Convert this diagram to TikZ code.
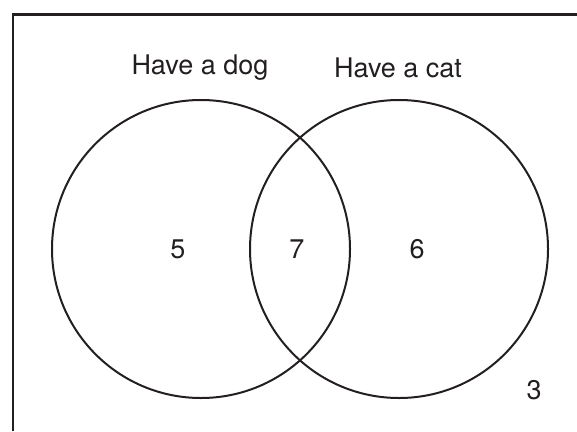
\documentclass[tikz,border=0pt]{standalone}
\usepackage{fontspec}
\setmainfont{TeX Gyre Heros}
\usetikzlibrary{positioning}
\definecolor{inkBlack}{RGB}{35,31,32}

\begin{document}
\begin{tikzpicture}[
  x=1pt, y=-1pt,
  font=\fontsize{27}{31}\selectfont,
  setcirc/.style={
    circle,
    draw=inkBlack,
    line width=2pt,
    minimum size=298pt,
    inner sep=0pt,
  },
  setlab/.style={
    text=inkBlack,
    inner sep=0pt,
  },
  count/.style={
    text=inkBlack,
    inner sep=0pt,
  },
]
  \useasboundingbox (0,0) rectangle (577,431);

  % frame (only top and left edge show)
  \coordinate (fbl) at (13,431);
  \coordinate (ftr) at (577,14.5);
  \draw[inkBlack, line width=2.6pt] (fbl) |- (ftr);

  \node[setcirc] (dog) at (201,249) {};
  \node[setcirc] (cat) at (399,249) {};

  \node[setlab] (dogl) at (200,68) {Have a dog};
  \node[setlab] (catl) at (398,68) {Have a cat};

  \node[count] (onlydog) at (178,249) {5};
  \node[count] (both)    at (297,249) {7};
  \node[count] (onlycat) at (417,249) {6};
  \node[count] (none)    at (534,390) {3};

\end{tikzpicture}
\end{document}
